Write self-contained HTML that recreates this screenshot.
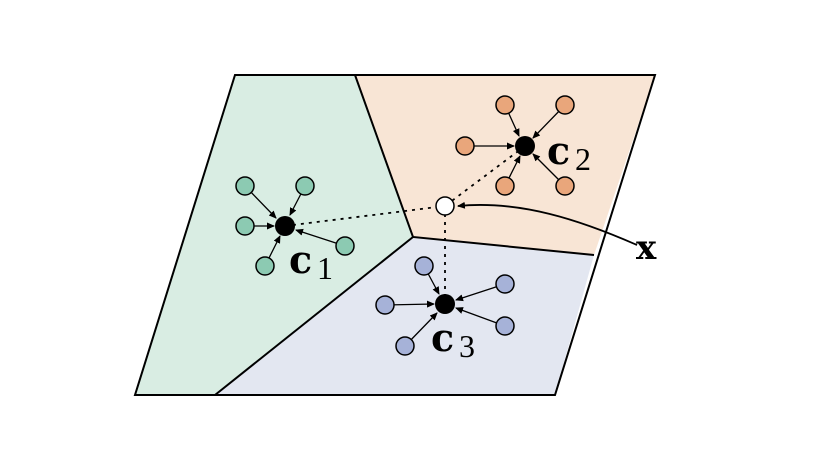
<!DOCTYPE html>
<html><head><style>body{margin:0;background:#fff}</style></head><body>
<svg width="820" height="464" viewBox="0 0 820 464" xmlns="http://www.w3.org/2000/svg">
<defs><marker id="a" markerWidth="8" markerHeight="8" refX="7" refY="4" orient="auto" markerUnits="userSpaceOnUse"><path d="M0,0.5 L8,4 L0,7.5 Z" fill="#000"/></marker></defs>
<polygon points="235,75 355,75 413,237 215,395 135,395" fill="#d9ede3"/>
<polygon points="355,75 655,75 594,255 413,237" fill="#f8e5d5"/>
<polygon points="413,237 594,255 555,395 215,395" fill="#e3e7f1"/>
<g stroke="#000" stroke-width="2" fill="none">
<polygon points="235,75 655,75 555,395 135,395"/>
<polyline points="355,75 413,237 594,255"/>
<line x1="413" y1="237" x2="215" y2="395"/>
</g>
<g stroke="#000" stroke-width="1.8" stroke-dasharray="3,5" fill="none">
<line x1="285" y1="226" x2="445" y2="206"/>
<line x1="525" y1="146" x2="445" y2="206"/>
<line x1="445" y1="206" x2="445" y2="304"/>
</g>
<g stroke="#000" stroke-width="1.3" marker-end="url(#a)">
<line x1="245" y1="186" x2="276" y2="218"/><line x1="305" y1="186" x2="290" y2="215"/><line x1="245" y1="226" x2="274" y2="226"/><line x1="345" y1="246" x2="296" y2="230"/><line x1="265" y1="266" x2="280" y2="236"/>
<line x1="505" y1="105" x2="519" y2="136"/><line x1="565" y1="105" x2="533" y2="138"/><line x1="465" y1="146" x2="514" y2="146"/><line x1="505" y1="186" x2="520" y2="156"/><line x1="565" y1="186" x2="533" y2="154"/>
<line x1="424" y1="266" x2="439" y2="294"/><line x1="505" y1="284" x2="456" y2="300"/><line x1="385" y1="305" x2="434" y2="304"/><line x1="505" y1="326" x2="456" y2="308"/><line x1="405" y1="346" x2="437" y2="313"/>
</g>
<path d="M637,245 C580,220 520,200 458,206" stroke="#000" stroke-width="1.8" fill="none" marker-end="url(#a)"/>
<g stroke="#000" stroke-width="1.5" fill="#8ccab2">
<circle cx="245" cy="186" r="9"/><circle cx="305" cy="186" r="9"/><circle cx="245" cy="226" r="9"/><circle cx="345" cy="246" r="9"/><circle cx="265" cy="266" r="9"/>
</g>
<g stroke="#000" stroke-width="1.5" fill="#e9a67b">
<circle cx="505" cy="105" r="9"/><circle cx="565" cy="105" r="9"/><circle cx="465" cy="146" r="9"/><circle cx="505" cy="186" r="9"/><circle cx="565" cy="186" r="9"/>
</g>
<g stroke="#000" stroke-width="1.5" fill="#a6b2d8">
<circle cx="424" cy="266" r="9"/><circle cx="505" cy="284" r="9"/><circle cx="385" cy="305" r="9"/><circle cx="505" cy="326" r="9"/><circle cx="405" cy="346" r="9"/>
</g>
<circle cx="285" cy="226" r="10" fill="#000"/><circle cx="525" cy="146" r="10" fill="#000"/><circle cx="445" cy="304" r="10" fill="#000"/>
<circle cx="445" cy="206" r="9" fill="#fff" stroke="#000" stroke-width="1.5"/>
<g fill="#000">
<text x="289" y="273" font-family="DejaVu Serif, serif" font-size="38" font-weight="bold">c</text><text x="317" y="279" font-family="Liberation Serif, serif" font-size="32">1</text>
<text x="547" y="164" font-family="DejaVu Serif, serif" font-size="38" font-weight="bold">c</text><text x="575" y="170" font-family="Liberation Serif, serif" font-size="32">2</text>
<text x="431" y="351" font-family="DejaVu Serif, serif" font-size="38" font-weight="bold">c</text><text x="459" y="357" font-family="Liberation Serif, serif" font-size="32">3</text>
<text x="636" y="259" font-family="DejaVu Serif, serif" font-size="34" font-weight="bold">x</text>
</g>
</svg>
</body></html>
